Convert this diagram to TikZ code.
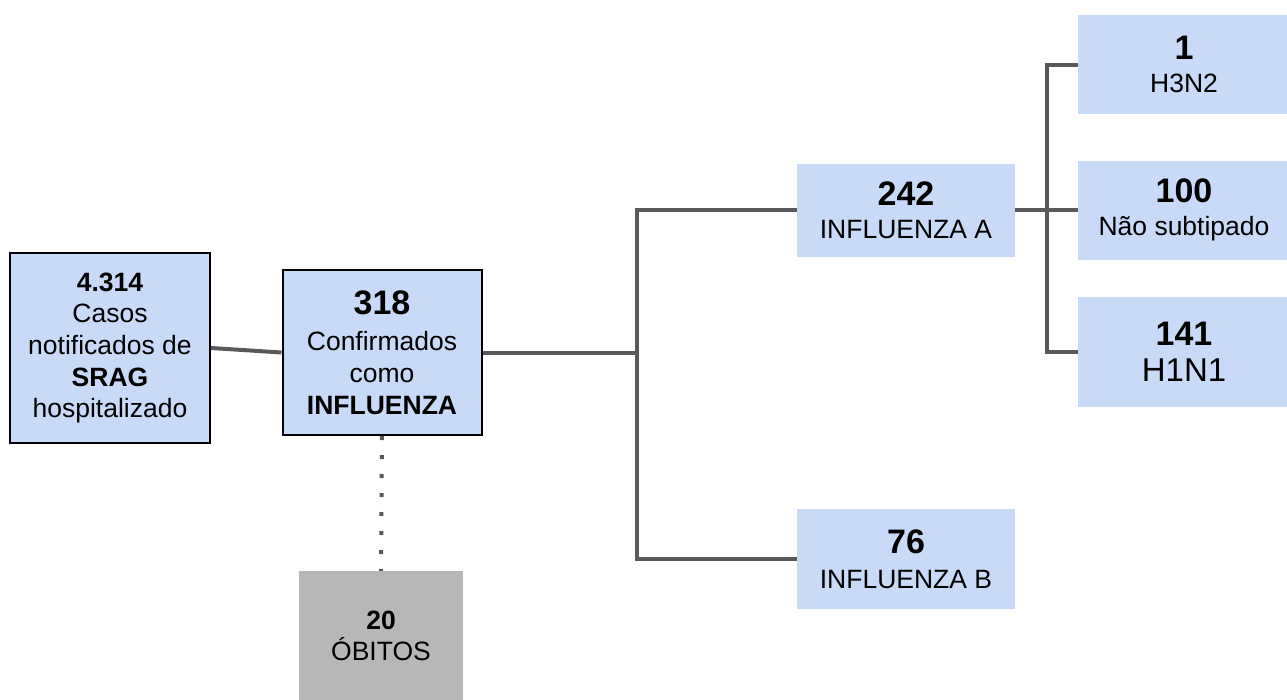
\documentclass[tikz,border=0pt]{standalone}
\usepackage{fontspec}
\setmainfont{Liberation Sans}
\definecolor{boxblue}{HTML}{C9DAF8}
\definecolor{linegray}{HTML}{595959}
\definecolor{boxgray}{HTML}{B7B7B7}
\newcommand{\nfont}{\fontsize{26.5}{31.7}\selectfont}
\newcommand{\bignum}{\fontsize{34}{38}\selectfont\bfseries}
\begin{document}
\begin{tikzpicture}[x=1pt,y=-1pt,
  box/.style={rectangle, fill=boxblue, inner sep=0pt, align=center, font=\nfont},
  bbox/.style={box, draw=black, line width=2pt},
  gbox/.style={box, fill=boxgray},
  conn/.style={draw=linegray, line width=4pt},
  dots/.style={draw=linegray, line width=4pt, dash pattern=on 4pt off 15pt},
]
\useasboundingbox (0,0) rectangle (1287,699);

\node[bbox, minimum width=200pt, minimum height=190pt] (b1) at (110,348)
  {\textbf{4.314}\\Casos\\notificados de\\\textbf{SRAG}\\hospitalizado};
\node[bbox, minimum width=199pt, minimum height=165pt] (b2) at (382,352.5)
  {{\bignum 318}\\[4.8pt]Confirmados\\como\\\textbf{INFLUENZA}};
\node[box, minimum width=218pt, minimum height=93pt] (bA) at (906,210)
  {{\bignum 242}\\[1.5pt]INFLUENZA A};
\node[box, minimum width=212pt, minimum height=99pt] (bH3) at (1184,64.5)
  {{\bignum 1}\\[2pt]H3N2};
\node[box, minimum width=212pt, minimum height=99pt] (bNS) at (1184,210)
  {{\bignum 100}\\[1.5pt]Não subtipado};
\node[box, minimum width=212pt, minimum height=110pt] (bH1) at (1184,352)
  {{\bignum 141}\\[4pt]{\fontsize{33}{38}\selectfont H1N1}};
\node[box, minimum width=218pt, minimum height=100pt] (bB) at (906,559)
  {{\bignum 76}\\[3pt]INFLUENZA B};
\node[gbox, minimum width=164pt, minimum height=130pt] (b20) at (381,636)
  {\textbf{20}\\ÓBITOS};

\coordinate (j1) at (637,352.5);
\coordinate (j2) at (1047,210);

\draw[conn] (b1.east) -- (b2.west);
\draw[conn] (b2.east) -- (j1);
\draw[conn] (bA.west) -| (j1) |- (bB.west);
\draw[conn] (bA.east) -- (bNS.west);
\draw[conn] (bH3.west) -| (j2) |- (bH1.west);
\draw[dots] (b2.south) -- (b20.north);
\end{tikzpicture}
\end{document}
